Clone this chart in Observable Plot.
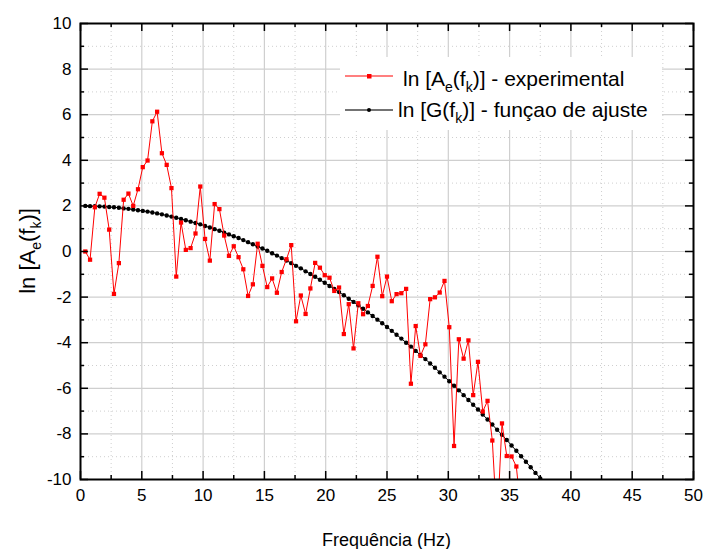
<!DOCTYPE html>
<html>
<head>
<meta charset="utf-8">
<script src="https://cdn.jsdelivr.net/npm/d3@7"></script>
<script src="https://cdn.jsdelivr.net/npm/@observablehq/plot@0.6"></script>
<style>
  body { margin: 0; background: #fff; }
  #chart { width: 704px; height: 549px; }
</style>
</head>
<body>
<div id="chart"></div>
<script>
// ---- data ----
const freq = [0.39, 0.78, 1.17, 1.56, 1.95, 2.34, 2.73, 3.13, 3.52, 3.91, 4.30, 4.69, 5.08, 5.47, 5.86, 6.25,
  6.64, 7.03, 7.42, 7.81, 8.20, 8.59, 8.98, 9.38, 9.77, 10.16, 10.55, 10.94, 11.33, 11.72, 12.11, 12.50,
  12.89, 13.28, 13.67, 14.06, 14.45, 14.84, 15.23, 15.63, 16.02, 16.41, 16.80, 17.19, 17.58, 17.97, 18.36, 18.75,
  19.14, 19.53, 19.92, 20.31, 20.70, 21.09, 21.48, 21.88, 22.27, 22.66, 23.05, 23.44, 23.83, 24.22, 24.61, 25.00,
  25.39, 25.78, 26.17, 26.56, 26.95, 27.34, 27.73, 28.13, 28.52, 28.91, 29.30, 29.69, 30.08, 30.47, 30.86, 31.25,
  31.64, 32.03, 32.42, 32.81, 33.20, 33.59, 33.98, 34.38, 34.77, 35.16, 35.55, 35.94, 36.33, 36.72, 37.11, 37.50];

const experimental = [0.00, -0.36, 1.94, 2.53, 2.36, 0.96, -1.86, -0.51, 2.27, 2.54, 2.00, 2.73, 3.70, 3.99, 5.71, 6.13,
  4.31, 3.80, 2.78, -1.10, 1.27, 0.07, 0.15, 0.79, 2.85, 0.55, -0.40, 2.08, 1.86, 0.70, -0.19, 0.23,
  -0.25, -0.78, -1.95, -1.44, 0.34, -0.63, -1.56, -1.18, -1.81, -0.90, -0.34, 0.28, -3.06, -1.93, -2.74, -1.62,
  -0.50, -0.71, -1.04, -1.15, -1.73, -1.58, -3.62, -2.31, -4.25, -2.27, -2.75, -2.39, -1.51, -0.23, -1.96, -1.10,
  -2.18, -1.87, -1.83, -1.64, -5.80, -3.27, -4.58, -4.07, -2.09, -2.01, -1.80, -1.29, -3.32, -8.53, -3.85, -4.70,
  -3.90, -6.30, -4.84, -7.02, -6.55, -8.29, -12.0, -7.54, -8.97, -8.99, -9.43, -11.5];

const fitted = [2.00, 1.99, 1.99, 1.98, 1.97, 1.95, 1.94, 1.92, 1.89, 1.87, 1.84, 1.81, 1.78, 1.75, 1.71, 1.67,
  1.63, 1.58, 1.53, 1.48, 1.43, 1.37, 1.31, 1.25, 1.19, 1.12, 1.05, 0.98, 0.91, 0.83, 0.75, 0.67,
  0.59, 0.50, 0.41, 0.32, 0.22, 0.13, 0.03, -0.08, -0.18, -0.29, -0.40, -0.51, -0.63, -0.74, -0.87, -0.99,
  -1.11, -1.24, -1.37, -1.51, -1.64, -1.78, -1.92, -2.07, -2.21, -2.36, -2.51, -2.67, -2.83, -2.99, -3.15, -3.31,
  -3.48, -3.65, -3.82, -4.00, -4.17, -4.36, -4.54, -4.72, -4.91, -5.10, -5.30, -5.49, -5.69, -5.89, -6.09, -6.30,
  -6.51, -6.72, -6.93, -7.15, -7.37, -7.59, -7.82, -8.04, -8.27, -8.51, -8.74, -8.98, -9.22, -9.46, -9.71, -9.95];

const xMajor = [0, 5, 10, 15, 20, 25, 30, 35, 40, 45, 50];
const xMinor = [2.5, 7.5, 12.5, 17.5, 22.5, 27.5, 32.5, 37.5, 42.5, 47.5];
const yMajor = [-10, -8, -6, -4, -2, 0, 2, 4, 6, 8, 10];
const yMinor = [-9, -7, -5, -3, -1, 1, 3, 5, 7, 9];

const xTitle = "Frequência (Hz)";
const legendExp = ["ln [A", "e", "(f", "k", ")] - experimental"];
const legendFit = ["ln [G(f", "k", ")] - funçao de ajuste"];
const yTitle = ["ln [A", "e", "(f", "k", ")]"];

// ---- tables ----
const expData = experimental.map((v, i) => ({f: freq[i], v}));
const fitData = fitted.map((v, i) => ({f: freq[i], v}));

const W = 704, H = 549, mL = 80, mR = 11, mT = 23, mB = 70;
const pw = W - mL - mR, ph = H - mT - mB;
const FONT = "'Liberation Sans', Arial, sans-serif";
const GRID = "#cfcfcf";

const chart = Plot.plot({
  width: W, height: H,
  marginLeft: mL, marginRight: mR, marginTop: mT, marginBottom: mB,
  style: {fontFamily: FONT, fontSize: "17px", background: "white", color: "black"},
  x: {domain: [0, 50]},
  y: {domain: [-10, 10]},
  marks: [
    Plot.ruleX(xMinor, {x: d => d, stroke: GRID, strokeDasharray: "1,3"}),
    Plot.ruleY(yMinor, {y: d => d, stroke: GRID, strokeDasharray: "1,3"}),
    Plot.ruleX(xMajor.slice(1, -1), {x: d => d, stroke: GRID, strokeWidth: 1.2}),
    Plot.ruleY(yMajor.slice(1, -1), {y: d => d, stroke: GRID, strokeWidth: 1.2}),
    Plot.line(fitData, {x: "f", y: "v", stroke: "black", strokeWidth: 1, clip: true}),
    Plot.dot(fitData, {x: "f", y: "v", r: 2.2, fill: "black", clip: true}),
    Plot.line(expData, {x: "f", y: "v", stroke: "#ff0000", strokeWidth: 1, clip: true}),
    Plot.dot(expData, {x: "f", y: "v", symbol: "square", r: 2.4, fill: "#ff0000", clip: true}),
    // inward ticks on all four sides
    Plot.tickX(xMajor, {x: d => d, insetTop: ph - 8, stroke: "black", strokeWidth: 1.5}),
    Plot.tickX(xMajor, {x: d => d, insetBottom: ph - 8, stroke: "black", strokeWidth: 1.5}),
    Plot.tickX(xMinor, {x: d => d, insetTop: ph - 4, stroke: "black", strokeWidth: 1.5}),
    Plot.tickX(xMinor, {x: d => d, insetBottom: ph - 4, stroke: "black", strokeWidth: 1.5}),
    Plot.tickY(yMajor, {y: d => d, insetRight: pw - 8, stroke: "black", strokeWidth: 1.5}),
    Plot.tickY(yMajor, {y: d => d, insetLeft: pw - 8, stroke: "black", strokeWidth: 1.5}),
    Plot.tickY(yMinor, {y: d => d, insetRight: pw - 4, stroke: "black", strokeWidth: 1.5}),
    Plot.tickY(yMinor, {y: d => d, insetLeft: pw - 4, stroke: "black", strokeWidth: 1.5}),
    Plot.frame({stroke: "black", strokeWidth: 2}),
    Plot.axisX(xMajor, {tickSize: 0, tickPadding: 9, fontSize: 17, label: null, tickFormat: d => String(d)}),
    Plot.axisY(yMajor, {tickSize: 0, tickPadding: 9, fontSize: 17, label: null, tickFormat: d => String(d)})
  ]
});

document.getElementById("chart").appendChild(chart);

// ---- titles and legend (rich text with subscripts) ----
const svg = d3.select(chart);

function richText(g, parts, subSize, shift) {
  parts.forEach((p, i) => {
    const isSub = i % 2 === 1;
    const t = g.append("tspan").text(p);
    if (isSub) t.attr("font-size", subSize).attr("dy", shift);
    else if (i > 0) t.attr("dy", -shift);
  });
}

// x title
svg.append("text")
  .attr("x", mL + pw / 2).attr("y", 546)
  .attr("text-anchor", "middle")
  .attr("font-family", FONT).attr("font-size", 18).attr("fill", "black")
  .text(xTitle);

// y title
const yt = svg.append("text")
  .attr("transform", `translate(35, ${mT + ph / 2}) rotate(-90)`)
  .attr("text-anchor", "middle")
  .attr("font-family", FONT).attr("font-size", 22).attr("fill", "black");
richText(yt, yTitle, 14, 6);

// legend
const lg = svg.append("g").attr("text-anchor", "start");
lg.append("rect").attr("x", 340).attr("y", 57).attr("width", 322).attr("height", 73).attr("fill", "white");
lg.append("line").attr("x1", 345).attr("x2", 393).attr("y1", 76).attr("y2", 76).attr("stroke", "#ff0000").attr("stroke-width", 1.2);
lg.append("rect").attr("x", 367).attr("y", 74).attr("width", 4.5).attr("height", 4.5).attr("fill", "#ff0000");
const t1 = lg.append("text").attr("x", 403).attr("y", 85.5).attr("text-anchor", "start")
  .attr("font-family", FONT).attr("font-size", 21).attr("fill", "black");
richText(t1, legendExp, 14, 6);
lg.append("line").attr("x1", 345).attr("x2", 393).attr("y1", 110).attr("y2", 110).attr("stroke", "#444").attr("stroke-width", 1.5);
lg.append("circle").attr("cx", 369).attr("cy", 110).attr("r", 2).attr("fill", "black");
const t2 = lg.append("text").attr("x", 398).attr("y", 117).attr("text-anchor", "start")
  .attr("font-family", FONT).attr("font-size", 21).attr("fill", "black");
richText(t2, legendFit, 14, 6);
</script>
</body>
</html>
